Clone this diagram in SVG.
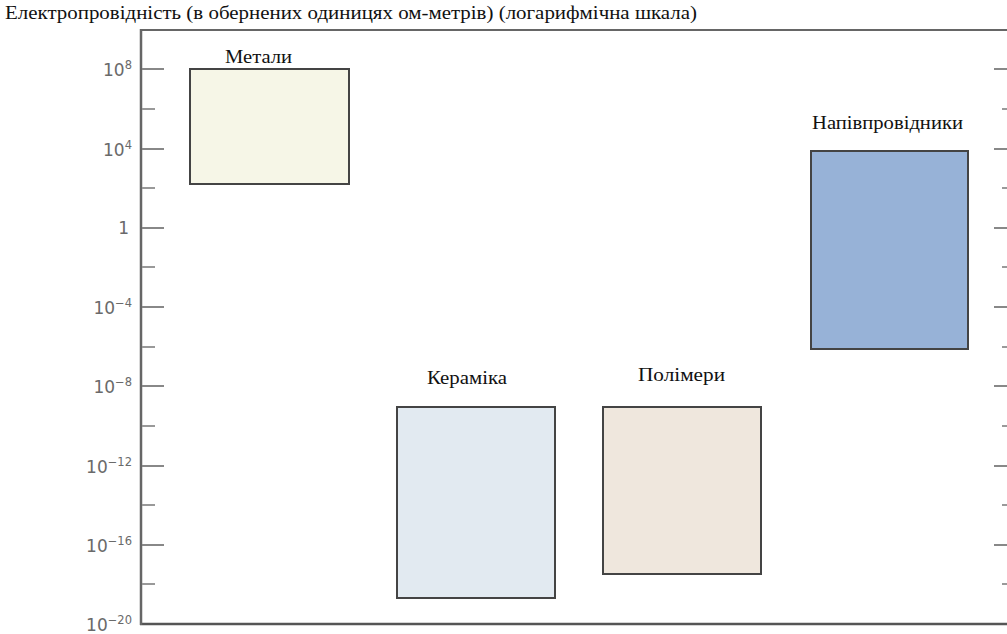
<svg xmlns="http://www.w3.org/2000/svg" width="1007" height="634" viewBox="0 0 1007 634">
<style>
.lbl{font-family:'Liberation Serif','DejaVu Serif','Noto Serif',serif;font-size:18px;fill:#111}
.tk{font-family:'DejaVu Sans','Liberation Sans',sans-serif;font-size:17px;fill:#6a6a6a;text-anchor:end}
.sup{font-size:11.5px}
.box{stroke:#444;stroke-width:2}
.maj{stroke:#888;stroke-width:2}
.min{stroke:#999;stroke-width:2}
</style>
<rect width="1007" height="634" fill="#fff"/>
<text class="lbl" x="5" y="19" font-size="17" textLength="692" lengthAdjust="spacingAndGlyphs">Електропровідність (в обернених одиницях  ом-метрів) (логарифмічна шкала)</text>
<g id="axes">
<line x1="140" y1="30" x2="1007" y2="30" stroke="#666" stroke-width="2"/>
<line x1="140" y1="624" x2="1007" y2="624" stroke="#555" stroke-width="2.5"/>
<line x1="141" y1="29" x2="141" y2="625" stroke="#666" stroke-width="2.5"/>
<g class="maj">
<line x1="142" y1="69" x2="164" y2="69"/><line x1="142" y1="149" x2="164" y2="149"/><line x1="142" y1="228" x2="164" y2="228"/><line x1="142" y1="307" x2="164" y2="307"/><line x1="142" y1="386" x2="164" y2="386"/><line x1="142" y1="466" x2="164" y2="466"/><line x1="142" y1="545" x2="164" y2="545"/>
<line x1="994" y1="69" x2="1007" y2="69"/><line x1="994" y1="149" x2="1007" y2="149"/><line x1="994" y1="228" x2="1007" y2="228"/><line x1="994" y1="307" x2="1007" y2="307"/><line x1="994" y1="386" x2="1007" y2="386"/><line x1="994" y1="466" x2="1007" y2="466"/><line x1="994" y1="545" x2="1007" y2="545"/>
</g>
<g class="min">
<line x1="142" y1="109" x2="155" y2="109"/><line x1="142" y1="188" x2="155" y2="188"/><line x1="142" y1="267" x2="155" y2="267"/><line x1="142" y1="347" x2="155" y2="347"/><line x1="142" y1="426" x2="155" y2="426"/><line x1="142" y1="505" x2="155" y2="505"/><line x1="142" y1="584" x2="155" y2="584"/>
<line x1="1002" y1="109" x2="1007" y2="109"/><line x1="1002" y1="188" x2="1007" y2="188"/><line x1="1002" y1="267" x2="1007" y2="267"/><line x1="1002" y1="347" x2="1007" y2="347"/><line x1="1002" y1="426" x2="1007" y2="426"/><line x1="1002" y1="505" x2="1007" y2="505"/><line x1="1002" y1="584" x2="1007" y2="584"/>
</g>
<text class="tk" x="132" y="76">10<tspan class="sup" dy="-7">8</tspan></text>
<text class="tk" x="132" y="156">10<tspan class="sup" dy="-7">4</tspan></text>
<text class="tk" x="129" y="234">1</text>
<text class="tk" x="132" y="314">10<tspan class="sup" dy="-7">−4</tspan></text>
<text class="tk" x="132" y="393">10<tspan class="sup" dy="-7">−8</tspan></text>
<text class="tk" x="132" y="473">10<tspan class="sup" dy="-7">−12</tspan></text>
<text class="tk" x="132" y="552">10<tspan class="sup" dy="-7">−16</tspan></text>
<text class="tk" x="132" y="631">10<tspan class="sup" dy="-7">−20</tspan></text>
</g>
<g id="metals">
<rect class="box" x="190" y="69" width="159" height="115" fill="#f6f6e7"/>
<text class="lbl" x="225" y="63" textLength="67" lengthAdjust="spacingAndGlyphs">Метали</text>
</g>
<g id="semiconductors">
<rect class="box" x="811" y="151" width="157" height="198" fill="#97b2d7"/>
<text class="lbl" x="812" y="129" textLength="151" lengthAdjust="spacingAndGlyphs">Напівпровідники</text>
</g>
<g id="ceramics">
<rect class="box" x="397" y="407" width="158" height="191" fill="#e2eaf1"/>
<text class="lbl" x="427" y="384" textLength="80" lengthAdjust="spacingAndGlyphs">Кераміка</text>
</g>
<g id="polymers">
<rect class="box" x="603" y="407" width="158" height="167" fill="#efe7dd"/>
<text class="lbl" x="638" y="381" textLength="87" lengthAdjust="spacingAndGlyphs">Полімери</text>
</g>
</svg>
